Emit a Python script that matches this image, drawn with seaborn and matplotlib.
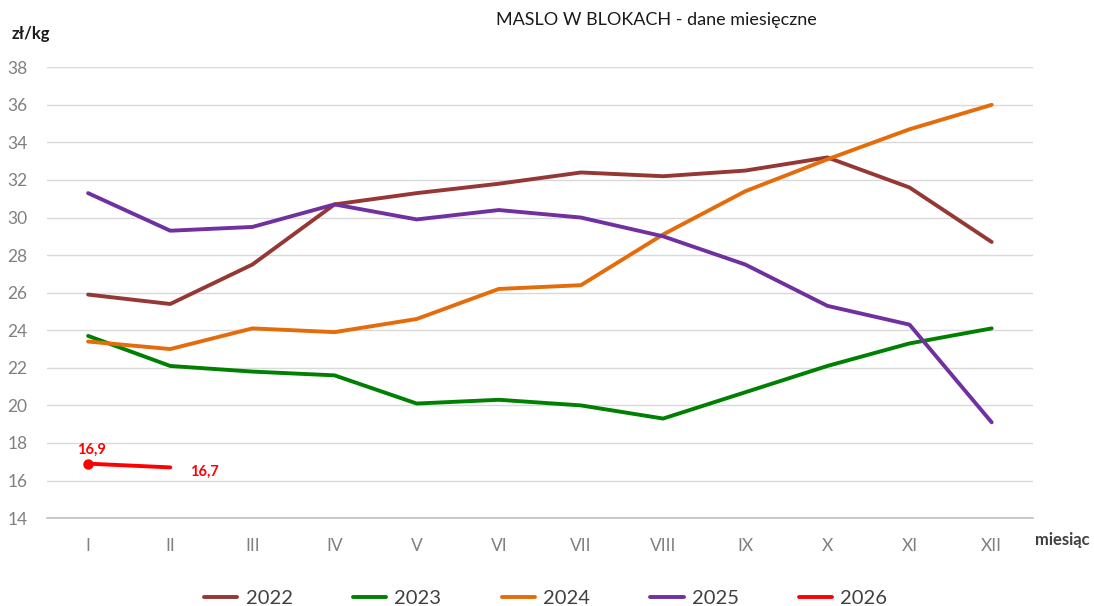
import pandas as pd
import matplotlib.pyplot as plt
import seaborn as sns

# monthly butter prices (zł/kg)
months = ['I', 'II', 'III', 'IV', 'V', 'VI', 'VII', 'VIII', 'IX', 'X', 'XI', 'XII']
y2022 = [25.9, 25.4, 27.5, 30.7, 31.3, 31.8, 32.4, 32.2, 32.5, 33.2, 31.6, 28.7]
y2023 = [23.7, 22.1, 21.8, 21.6, 20.1, 20.3, 20.0, 19.3, 20.7, 22.1, 23.3, 24.1]
y2024 = [23.4, 23.0, 24.1, 23.9, 24.6, 26.2, 26.4, 29.1, 31.4, 33.1, 34.7, 36.0]
y2025 = [31.3, 29.3, 29.5, 30.7, 29.9, 30.4, 30.0, 29.0, 27.5, 25.3, 24.3, 19.1]
y2026 = [16.9, 16.7]

years = ['2022', '2023', '2024', '2025', '2026']
colors = ['#953735', '#008000', '#E46C0A', '#7030A0', '#FF0000']

rows = []
for yr, vals in zip(years, [y2022, y2023, y2024, y2025, y2026]):
    for i, v in enumerate(vals):
        rows.append({'month': i, 'value': v, 'year': yr})
df = pd.DataFrame(rows)

sns.set_style('white')
plt.rcParams['font.family'] = ['Lato', 'DejaVu Sans']

fig = plt.figure(figsize=(10.94, 6.06), dpi=100)
ax = fig.add_axes([0.043, 0.145, 0.901, 0.744])

sns.lineplot(data=df, x='month', y='value', hue='year', palette=colors,
             linewidth=2.8, ax=ax, legend=True)

# marker + labels for 2026
ax.plot(0, y2026[0], 'o', color='#FF0000', markersize=6.5)
ax.annotate('16,9', (0, y2026[0]), xytext=(-8, 7), textcoords='offset points',
            color='#FF0000', fontsize=10.5, fontweight='bold')
ax.annotate('16,7', (1, y2026[1]), xytext=(14, -6), textcoords='offset points',
            color='#FF0000', fontsize=10.5, fontweight='bold')

ax.set_xlim(-0.5, 11.5)
ax.set_ylim(14, 38)
ax.set_xticks(range(12))
ax.set_xticklabels(months)
ax.set_yticks(range(14, 39, 2))
ax.tick_params(axis='both', length=0, labelsize=12.5, colors='#808080', pad=14)
ax.grid(axis='y', color='#D9D9D9', linewidth=1)
for s in ['top', 'right', 'left']:
    ax.spines[s].set_visible(False)
ax.spines['bottom'].set_color('#BFBFBF')
ax.spines['bottom'].set_linewidth(1.2)
ax.set_xlabel('')
ax.set_ylabel('')

fig.text(0.011, 0.935, 'zł/kg', fontsize=12, fontweight='bold', color='#1a1a1a')
fig.text(0.946, 0.100, 'miesiąc', fontsize=12, fontweight='bold', color='#404040')
fig.text(0.600, 0.958, 'MASLO W BLOKACH - dane miesięczne', fontsize=13,
         color='#1a1a1a', ha='center')

ax.legend(loc='upper center', bbox_to_anchor=(0.506, -0.12), ncol=5, frameon=False,
          fontsize=14.5, handlelength=1.65, handletextpad=0.4, columnspacing=3.0,
          labelcolor='#404040')

plt.savefig('out.png', dpi=100)
